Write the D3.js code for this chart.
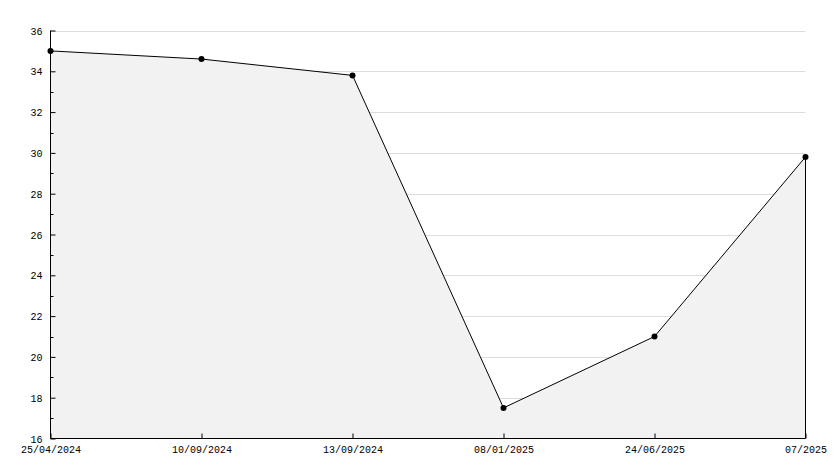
<!DOCTYPE html>
<html><head><meta charset="utf-8">
<script src="https://cdn.jsdelivr.net/npm/d3@7"></script>
<style>html,body{margin:0;padding:0;background:#fff;}</style>
</head><body>
<svg id="c" width="834" height="468"></svg>
<script>
const categories = ["25/04/2024","10/09/2024","13/09/2024","08/01/2025","24/06/2025","07/2025"];
const values = [35.0, 34.6, 33.8, 17.5, 21.0, 29.8];
const yTicks = [16,18,20,22,24,26,28,30,32,34,36];
const yMinor = [17,19,21,23,25,27,29,31,33,35];

const svg = d3.select("#c");
const L = 50.5, R = 805.5, T = 30.5, B = 438.5;
const x = d3.scalePoint().domain(categories).range([L, R]);
const y = d3.scaleLinear().domain([16, 36]).range([B, T]);
const font = "Liberation Mono";

// grid
svg.append("g").selectAll("line").data(yTicks.filter(d => d > 16)).join("line")
  .attr("x1", L).attr("x2", R)
  .attr("y1", d => Math.round(y(d)) + 0.5).attr("y2", d => Math.round(y(d)) + 0.5)
  .attr("stroke", "#dddddd").attr("stroke-width", 1);

const pts = categories.map((c, i) => [x(c), y(values[i])]);

// area
const area = d3.area().x(d => d[0]).y0(B).y1(d => d[1]);
svg.append("path").datum(pts).attr("d", area).attr("fill", "#f2f2f2");

// right edge of area
svg.append("line").attr("x1", pts[pts.length-1][0]).attr("x2", pts[pts.length-1][0])
  .attr("y1", pts[pts.length-1][1]).attr("y2", B).attr("stroke", "#000");

// line
svg.append("path").datum(pts).attr("d", d3.line().x(d => d[0]).y(d => d[1]))
  .attr("fill", "none").attr("stroke", "#000").attr("stroke-width", 1);

// markers
svg.append("g").selectAll("circle").data(pts).join("circle")
  .attr("cx", d => d[0]).attr("cy", d => d[1]).attr("r", 3).attr("fill", "#000");

// axes
const yAxis = d3.axisLeft(y).tickValues(yTicks).tickSize(-5).tickPadding(8).tickFormat(d3.format("d"));
const gy = svg.append("g").attr("transform", `translate(${L},0)`).call(yAxis);
gy.select(".domain").attr("stroke", "#000").attr("d", `M0,${B}V${T}`);
gy.selectAll("text").attr("font-family", font).attr("font-size", 10).attr("fill", "#000").attr("dy", "0.35em");
gy.selectAll(".tick line").attr("stroke", "#000");
svg.append("g").selectAll("line").data(yMinor).join("line")
  .attr("x1", L).attr("x2", L + 3)
  .attr("y1", d => Math.round(y(d)) + 0.5).attr("y2", d => Math.round(y(d)) + 0.5)
  .attr("stroke", "#000");

const xAxis = d3.axisBottom(x).tickSize(-5).tickPadding(6);
const gx = svg.append("g").attr("transform", `translate(0,${B})`).call(xAxis);
gx.select(".domain").attr("stroke", "#000").attr("d", `M${L},0H${R}`);
gx.selectAll(".tick line").attr("stroke", "#000");
gx.selectAll("text").attr("font-family", font).attr("font-size", 10).attr("fill", "#000").attr("y", 7).attr("dy", "0.71em");
</script>
</body></html>
